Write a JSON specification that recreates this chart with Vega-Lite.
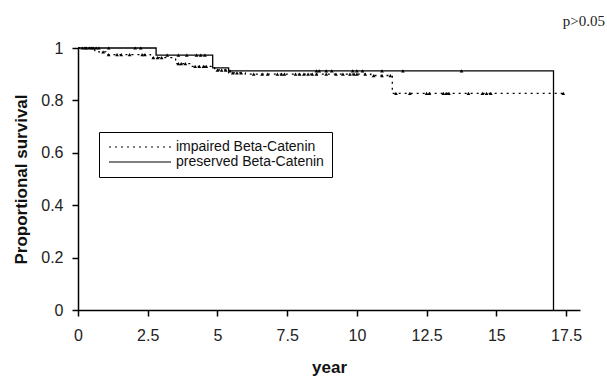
{
  "$schema": "https://vega.github.io/schema/vega-lite/v6.json",
  "width": 502,
  "height": 262,
  "autosize": {"type": "none"},
  "padding": {"left": 78, "top": 48, "right": 27, "bottom": 69},
  "background": "white",
  "title": {"text": "p>0.05", "anchor": "end", "frame": "group", "font": "Liberation Serif", "fontSize": 15, "fontWeight": "normal", "color": "#222", "dx": 25, "offset": 11},
  "config": {
    "view": {"stroke": null},
    "axis": {"domainColor": "black", "domainWidth": 1.5, "tickColor": "black", "tickWidth": 1.5, "tickSize": 6, "grid": false, "labelFont": "Liberation Sans", "labelFontSize": 16, "labelColor": "#222", "titleFont": "Liberation Sans", "titleFontSize": 17, "titleFontWeight": "bold", "titleColor": "#111", "labelFlush": false, "labelOverlap": false}
  },
  "datasets": {
    "curves": [
      {"year": 0, "survival": 1, "group": "impaired Beta-Catenin"},
      {"year": 0.6, "survival": 0.985, "group": "impaired Beta-Catenin"},
      {"year": 1.0, "survival": 0.975, "group": "impaired Beta-Catenin"},
      {"year": 2.6, "survival": 0.963, "group": "impaired Beta-Catenin"},
      {"year": 3.5, "survival": 0.94, "group": "impaired Beta-Catenin"},
      {"year": 4.1, "survival": 0.93, "group": "impaired Beta-Catenin"},
      {"year": 4.9, "survival": 0.916, "group": "impaired Beta-Catenin"},
      {"year": 5.4, "survival": 0.905, "group": "impaired Beta-Catenin"},
      {"year": 6.0, "survival": 0.9, "group": "impaired Beta-Catenin"},
      {"year": 10.5, "survival": 0.895, "group": "impaired Beta-Catenin"},
      {"year": 11.27, "survival": 0.827, "group": "impaired Beta-Catenin"},
      {"year": 17.5, "survival": 0.827, "group": "impaired Beta-Catenin"},
      {"year": 0, "survival": 1, "group": "preserved Beta-Catenin"},
      {"year": 2.8, "survival": 0.973, "group": "preserved Beta-Catenin"},
      {"year": 4.83, "survival": 0.924, "group": "preserved Beta-Catenin"},
      {"year": 5.4, "survival": 0.913, "group": "preserved Beta-Catenin"},
      {"year": 17.05, "survival": 0, "group": "preserved Beta-Catenin"}
    ],
    "censor": [
      {"year": 0.3, "survival": 1}, {"year": 0.5, "survival": 1}, {"year": 0.9, "survival": 0.985},
      {"year": 1.1, "survival": 0.975}, {"year": 1.4, "survival": 0.975}, {"year": 1.55, "survival": 0.975},
      {"year": 1.85, "survival": 0.975}, {"year": 2.3, "survival": 0.975}, {"year": 2.4, "survival": 0.975},
      {"year": 2.7, "survival": 0.963}, {"year": 2.85, "survival": 0.963}, {"year": 3.0, "survival": 0.963},
      {"year": 3.6, "survival": 0.94}, {"year": 3.7, "survival": 0.94}, {"year": 3.85, "survival": 0.94},
      {"year": 4.2, "survival": 0.93}, {"year": 4.35, "survival": 0.93}, {"year": 4.5, "survival": 0.93}, {"year": 4.6, "survival": 0.93},
      {"year": 5.0, "survival": 0.916}, {"year": 5.15, "survival": 0.916}, {"year": 5.3, "survival": 0.916},
      {"year": 5.55, "survival": 0.905}, {"year": 5.7, "survival": 0.905}, {"year": 5.85, "survival": 0.905},
      {"year": 6.3, "survival": 0.9}, {"year": 6.6, "survival": 0.9}, {"year": 6.8, "survival": 0.9},
      {"year": 7.15, "survival": 0.9}, {"year": 7.3, "survival": 0.9}, {"year": 7.4, "survival": 0.9},
      {"year": 7.8, "survival": 0.9}, {"year": 7.95, "survival": 0.9}, {"year": 8.1, "survival": 0.9},
      {"year": 8.25, "survival": 0.9}, {"year": 8.4, "survival": 0.9}, {"year": 8.55, "survival": 0.9},
      {"year": 8.9, "survival": 0.9}, {"year": 9.25, "survival": 0.9}, {"year": 9.5, "survival": 0.9},
      {"year": 9.75, "survival": 0.9}, {"year": 9.9, "survival": 0.9}, {"year": 10.0, "survival": 0.9},
      {"year": 10.3, "survival": 0.9}, {"year": 10.6, "survival": 0.895}, {"year": 10.9, "survival": 0.895},
      {"year": 11.2, "survival": 0.895}, {"year": 11.4, "survival": 0.827}, {"year": 11.9, "survival": 0.827},
      {"year": 12.5, "survival": 0.827}, {"year": 12.6, "survival": 0.827}, {"year": 13.1, "survival": 0.827},
      {"year": 13.2, "survival": 0.827}, {"year": 13.3, "survival": 0.827}, {"year": 14.0, "survival": 0.827},
      {"year": 14.5, "survival": 0.827}, {"year": 14.65, "survival": 0.827}, {"year": 14.8, "survival": 0.827},
      {"year": 17.4, "survival": 0.827},
      {"year": 0.15, "survival": 1}, {"year": 0.25, "survival": 1}, {"year": 0.4, "survival": 1},
      {"year": 0.55, "survival": 1}, {"year": 0.65, "survival": 1}, {"year": 0.75, "survival": 1},
      {"year": 1.1, "survival": 1}, {"year": 2.05, "survival": 1}, {"year": 2.25, "survival": 1},
      {"year": 3.2, "survival": 0.973}, {"year": 3.6, "survival": 0.973}, {"year": 3.9, "survival": 0.973},
      {"year": 4.25, "survival": 0.973}, {"year": 4.4, "survival": 0.973}, {"year": 4.55, "survival": 0.973},
      {"year": 5.45, "survival": 0.913}, {"year": 8.55, "survival": 0.913}, {"year": 8.65, "survival": 0.913},
      {"year": 8.9, "survival": 0.913}, {"year": 9.1, "survival": 0.913}, {"year": 9.85, "survival": 0.913},
      {"year": 10.0, "survival": 0.913}, {"year": 10.2, "survival": 0.913}, {"year": 10.9, "survival": 0.913},
      {"year": 11.65, "survival": 0.913}, {"year": 13.75, "survival": 0.913}
    ]
  },
  "layer": [
    {
      "data": {"name": "curves"},
      "mark": {"type": "line", "interpolate": "step-after", "color": "black", "strokeWidth": 1.3},
      "encoding": {
        "x": {"field": "year", "type": "quantitative", "scale": {"domain": [0, 18], "nice": false}, "axis": {"values": [0, 2.5, 5, 7.5, 10, 12.5, 15, 17.5], "format": ".1~f", "labelPadding": 11, "title": "year", "titlePadding": 16}},
        "y": {"field": "survival", "type": "quantitative", "scale": {"domain": [0, 1], "nice": false}, "axis": {"values": [0, 0.2, 0.4, 0.6, 0.8, 1], "format": ".1~f", "labelPadding": 9, "title": "Proportional survival", "titlePadding": 10}},
        "strokeDash": {"field": "group", "type": "nominal", "scale": {"domain": ["impaired Beta-Catenin", "preserved Beta-Catenin"], "range": [[2, 4], [1, 0]]},
          "legend": {"title": null, "orient": "none", "legendX": 21, "legendY": 84, "strokeColor": "black", "fillColor": "white", "padding": 8, "symbolType": "M-1,0H11.4", "symbolSize": 100, "symbolStrokeWidth": 1.2, "symbolStrokeColor": "black", "symbolFillColor": "transparent", "labelFont": "Liberation Sans", "labelFontSize": 14, "labelColor": "#111", "labelOffset": 55, "rowPadding": 1}}
      }
    },
    {
      "data": {"name": "censor"},
      "mark": {"type": "point", "shape": "triangle-up", "filled": true, "color": "black", "size": 14, "opacity": 1},
      "encoding": {
        "x": {"field": "year", "type": "quantitative"},
        "y": {"field": "survival", "type": "quantitative"}
      }
    }
  ]
}
